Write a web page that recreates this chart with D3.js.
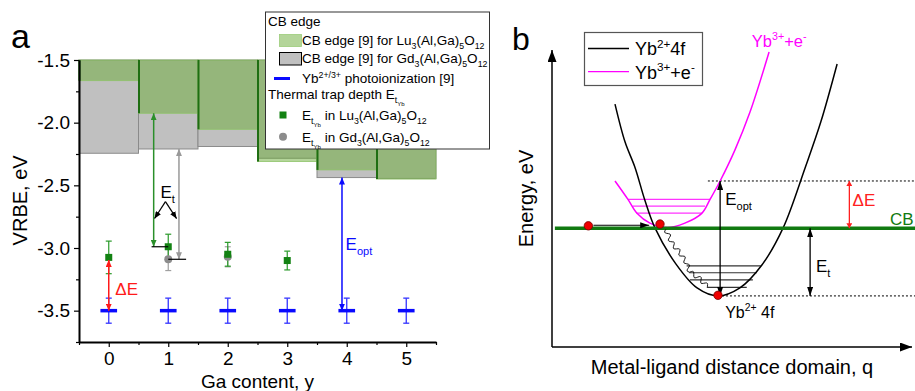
<!DOCTYPE html>
<html>
<head>
<meta charset="utf-8">
<script src="https://cdn.jsdelivr.net/npm/d3@7"></script>
<style>
  body { margin: 0; background: #fff; }
  svg { font-family: "Liberation Sans", Arial, sans-serif; }
</style>
</head>
<body>
<svg></svg>
<script>
///////////////////////////////////////////
// Data (panel a)
var gaContent = [0, 1, 2, 3, 4, 5];
var cbTop = -1.5;
var cbLu = [-1.665, -1.925, -2.053, -2.31, -2.377, -2.45];   // CB edge Lu3(Al,Ga)5O12
var cbGd = [-2.244, -2.21, -2.19, -2.284, -2.438, -2.445];   // CB edge Gd3(Al,Ga)5O12
var photoIon = [-3.5, -3.5, -3.5, -3.5, -3.5, -3.5];
var photoIonErr = [0.1, 0.1, 0.1, 0.1, 0.1, 0.1];
var etLuGa = [0, 1, 2, 3];
var etLu = [-3.075, -2.99, -3.05, -3.10];
var etLuErr = [0.13, 0.10, 0.095, 0.075];
var etGdGa = [1, 2];
var etGd = [-3.09, -3.07];
var etGdErr = [0.09, 0.08];
var yMajor = [-3.5, -3.0, -2.5, -2.0, -1.5];
var yMinor = [-3.75, -3.25, -2.75, -2.25, -1.75];
var xMinor = [-0.5, 0.5, 1.5, 2.5, 3.5, 4.5, 5.5];

///////////////////////////////////////////
// Data (panel b), schematic units q: 0..100, E: 0..100
var curve4f = [[17.5, 81.8], [20.3, 69.0], [23.1, 60.3], [25.8, 49.4], [28.6, 40.1], [34.4, 28.0],
               [40.3, 19.9], [46.1, 17.2], [52.2, 19.9], [58.3, 27.6], [64.2, 40.1], [70.3, 60.3],
               [74.7, 75.9], [79.2, 95.3]];
var curveCT = [[17.5, 55.9], [21.1, 49.7], [23.6, 45.0], [27.2, 41.7], [32.1, 40.2], [36.9, 41.7],
               [41.6, 45.0], [43.9, 49.7], [46.7, 55.9], [50.8, 66.3], [55.0, 79.1], [60.3, 99.3]];
var levelsCT = [[49.7, 21.1, 43.9], [47.4, 22.4, 42.5], [45.1, 23.5, 41.6]];
var levels4f = [[27.3, 37.4, 58.0], [25.0, 38.1, 56.9], [22.6, 38.3, 55.8], [20.1, 43.0, 54.1]];
var relaxPath = [[31.6, 39.6], [33.3, 35.0], [35.6, 31.6], [37.2, 28.6], [38.3, 25.3], [41.1, 22.9], [43.3, 20.2]];
var eCB = 40.0, eOptTop = 55.9, eGround = 17.2;
var electrons = [[10.1, 40.8], [30.0, 41.4], [46.1, 17.4]];

///////////////////////////////////////////
// Layout
var svgWidth = 915, svgHeight = 391;
var svg = d3.select("svg").attr("width", svgWidth).attr("height", svgHeight);
var defs = svg.append("defs");

var xA = d3.scaleLinear().domain([-0.5, 5.5]).range([79, 436]);
var yA = d3.scaleLinear().domain([-3.75, -1.5]).range([342, 60]);
var xB = d3.scaleLinear().domain([0, 100]).range([552, 912]);
var yB = d3.scaleLinear().domain([0, 100]).range([347, 50]);

var green = "#138213", greenFill = "#6aab35", grayPt = "#8c8c8c", blue = "#0a0aff";

function addMarker(id, color, len, wid) {
  defs.append("marker").attr("id", id)
    .attr("viewBox", "0 0 10 10").attr("refX", 10).attr("refY", 5)
    .attr("markerWidth", len).attr("markerHeight", wid)
    .attr("markerUnits", "userSpaceOnUse").attr("orient", "auto-start-reverse")
    .attr("preserveAspectRatio", "none")
    .append("path").attr("d", "M0,0L10,5L0,10Z").attr("fill", color);
}
addMarker("mGreen", "#2a8f2a", 7, 6);
addMarker("mGray", "#999", 7, 6);
addMarker("mRed", "#ff1a1a", 7, 6);
addMarker("mBlue", blue, 7, 6);
addMarker("mBlack", "#000", 7, 6);
addMarker("mBlackB", "#000", 9, 6);
addMarker("mRedB", "#ff2020", 5, 6);
addMarker("mAxis", "#000", 12, 9);

// text with sub/superscripts: parts = [[text, mode]]
function richText(sel, parts, size) {
  var shift = 0;
  parts.forEach(function(p) {
    var m = p[1] || "n";
    var target = m == "sub" ? size * 0.3 : m == "sup" ? -size * 0.4 : m == "subsub" ? size * 0.55 : 0;
    var fs = m == "n" ? size : m == "subsub" ? size * 0.45 : size * 0.65;
    sel.append("tspan").attr("dy", target - shift).style("font-size", fs + "px").text(p[0]);
    shift = target;
  });
  return sel;
}

///////////////////////////////////////////
///////////////////////////////////////////
// Panel a
var gA = svg.append("g").classed("panel-a", true);

// CB edge bars: Gd gray underneath, Lu green translucent over it
gA.selectAll("rect.gd").data(gaContent).enter().append("rect").classed("gd", true)
  .attr("x", function(d) { return xA(d - 0.5); })
  .attr("width", function(d) { return xA(d + 0.5) - xA(d - 0.5); })
  .attr("y", yA(cbTop))
  .attr("height", function(d, i) { return yA(cbGd[i]) - yA(cbTop); })
  .attr("fill", "#c0c0c0").attr("stroke", "#8a8a8a").attr("stroke-width", 1);

gA.selectAll("rect.lu").data(gaContent).enter().append("rect").classed("lu", true)
  .attr("x", function(d) { return xA(d - 0.5); })
  .attr("width", function(d) { return xA(d + 0.5) - xA(d - 0.5); })
  .attr("y", yA(cbTop))
  .attr("height", function(d, i) { return yA(cbLu[i]) - yA(cbTop); })
  .attr("fill", greenFill).attr("fill-opacity", 0.5)
  .attr("stroke", "#8fc46a").attr("stroke-width", 0.8);

gA.selectAll("line.luedge").data(gaContent).enter().append("line").classed("luedge", true)
  .attr("x1", function(d) { return xA(d - 0.5) + 0.5; })
  .attr("x2", function(d) { return xA(d - 0.5) + 0.5; })
  .attr("y1", yA(cbTop))
  .attr("y2", function(d, i) { return yA(cbLu[i]); })
  .attr("stroke", "#1f6e12").attr("stroke-width", 2);

// axes
var yAxis = gA.append("g").attr("transform", "translate(" + xA(-0.5) + ",0)")
  .call(d3.axisLeft(yA).tickValues(yMajor).tickSize(5).tickSizeOuter(0).tickPadding(4)
    .tickFormat(function(d) { return d.toFixed(1); }));
gA.append("g").attr("transform", "translate(" + xA(-0.5) + ",0)")
  .call(d3.axisLeft(yA).tickValues(yMinor).tickSize(3).tickSizeOuter(0).tickFormat(""))
  .select(".domain").remove();
var xAxis = gA.append("g").attr("transform", "translate(0," + yA(-3.75) + ")")
  .call(d3.axisBottom(xA).tickValues(gaContent).tickSize(5).tickSizeOuter(0).tickPadding(5)
    .tickFormat(d3.format("d")));
gA.append("g").attr("transform", "translate(0," + yA(-3.75) + ")")
  .call(d3.axisBottom(xA).tickValues(xMinor).tickSize(3).tickSizeOuter(0).tickFormat(""))
  .select(".domain").remove();
gA.selectAll(".domain").attr("stroke-width", 2);
gA.selectAll(".tick line").attr("stroke-width", 1.2);
gA.selectAll(".tick text").style("font-size", "19px").attr("fill", "#000");

gA.append("text").attr("transform", "translate(27," + yA(-2.62) + ") rotate(-90)")
  .attr("text-anchor", "middle").style("font-size", "20px").text("VRBE, eV");
gA.append("text").attr("x", (xA(-0.5) + xA(5.5)) / 2).attr("y", 388)
  .attr("text-anchor", "middle").style("font-size", "19px").text("Ga content, y");
gA.append("text").attr("x", 11).attr("y", 48).style("font-size", "34px").text("a");

// photoionization marks
gaContent.forEach(function(g, i) {
  gA.append("line").attr("x1", xA(g)).attr("x2", xA(g))
    .attr("y1", yA(photoIon[i] + photoIonErr[i])).attr("y2", yA(photoIon[i] - photoIonErr[i]))
    .attr("stroke", "#3333ff").attr("stroke-width", 1.3);
  [photoIon[i] + photoIonErr[i], photoIon[i] - photoIonErr[i]].forEach(function(v) {
    gA.append("line").attr("x1", xA(g) - 3).attr("x2", xA(g) + 3).attr("y1", yA(v)).attr("y2", yA(v))
      .attr("stroke", "#3333ff").attr("stroke-width", 1.3);
  });
  gA.append("line").attr("x1", xA(g - 0.14)).attr("x2", xA(g + 0.14))
    .attr("y1", yA(photoIon[i])).attr("y2", yA(photoIon[i]))
    .attr("stroke", blue).attr("stroke-width", 3.5);
});

// error bars + points
function errBars(xs, vs, es, color) {
  xs.forEach(function(g, i) {
    gA.append("line").attr("x1", xA(g)).attr("x2", xA(g))
      .attr("y1", yA(vs[i] + es[i])).attr("y2", yA(vs[i] - es[i]))
      .attr("stroke", color).attr("stroke-width", 1.2);
    [vs[i] + es[i], vs[i] - es[i]].forEach(function(v) {
      gA.append("line").attr("x1", xA(g) - 3).attr("x2", xA(g) + 3).attr("y1", yA(v)).attr("y2", yA(v))
        .attr("stroke", color).attr("stroke-width", 1.2);
    });
  });
}
errBars(etGdGa, etGd, etGdErr, "#a0a0a0");
errBars(etLuGa, etLu, etLuErr, "#2a9a2a");
gA.selectAll("circle.gd").data(etGdGa).enter().append("circle")
  .attr("cx", function(d) { return xA(d); }).attr("cy", function(d, i) { return yA(etGd[i]); })
  .attr("r", 4).attr("fill", grayPt);
gA.selectAll("rect.pt").data(etLuGa).enter().append("rect")
  .attr("x", function(d) { return xA(d) - 3.5; }).attr("y", function(d, i) { return yA(etLu[i]) - 3.5; })
  .attr("width", 7).attr("height", 7).attr("fill", green);

// annotation arrows
function arrowA(x1, y1, x2, y2, color, marker, both, w) {
  var l = gA.append("line").attr("x1", xA(x1)).attr("y1", yA(y1)).attr("x2", xA(x2)).attr("y2", yA(y2))
    .attr("stroke", color).attr("stroke-width", w || 1.5).attr("marker-end", "url(#" + marker + ")");
  if (both) l.attr("marker-start", "url(#" + marker + ")");
}
arrowA(0.755, cbLu[1], 0.755, etLu[1], "#2a8f2a", "mGreen", true);
arrowA(1.18, cbGd[1], 1.18, etGd[0], "#999", "mGray", true);
gA.append("line").attr("x1", xA(0.72)).attr("x2", xA(1.0)).attr("y1", yA(etLu[1])).attr("y2", yA(etLu[1]))
  .attr("stroke", "#000").attr("stroke-width", 1.2);
gA.append("line").attr("x1", xA(1.0)).attr("x2", xA(1.3)).attr("y1", yA(etGd[0])).attr("y2", yA(etGd[0]))
  .attr("stroke", "#000").attr("stroke-width", 1.2);
arrowA(0.953, -2.63, 0.77, -2.765, "#000", "mBlack", false, 1.2);
arrowA(0.953, -2.63, 1.14, -2.765, "#000", "mBlack", false, 1.2);
arrowA(0, etLu[0] - 0.02, 0, photoIon[0], "#ff1a1a", "mRed", true);
arrowA(3.92, cbGd[4], 3.92, photoIon[4], blue, "mBlue", true);

richText(gA.append("text").attr("x", xA(0.87)).attr("y", yA(-2.6)), [["E"], ["t", "sub"]], 17);
richText(gA.append("text").attr("x", xA(0.11)).attr("y", yA(-3.375)).attr("fill", "#ff1a1a"), [["\u0394E"]], 17);
richText(gA.append("text").attr("x", xA(3.98)).attr("y", yA(-3.015)).attr("fill", blue), [["E"], ["opt", "sub"]], 17);

// legend a
var lg = gA.append("g").classed("legend-a", true).style("font-size", "13.5px");
lg.append("rect").attr("x", 265.5).attr("y", 12).attr("width", 224).attr("height", 137)
  .attr("fill", "#fff").attr("stroke", "#333").attr("stroke-width", 1);
lg.append("text").attr("x", 268).attr("y", 26).text("CB edge");
lg.append("rect").attr("x", 279.5).attr("y", 34.5).attr("width", 22).attr("height", 12)
  .attr("fill", greenFill).attr("fill-opacity", 0.5).attr("stroke", "#9ccc7a").attr("stroke-width", 0.8);
richText(lg.append("text").attr("x", 302).attr("y", 44.5),
  [["CB edge [9] for Lu"], ["3", "sub"], ["(Al,Ga)"], ["5", "sub"], ["O"], ["12", "sub"]], 13.5);
lg.append("rect").attr("x", 279.5).attr("y", 52.5).attr("width", 22).attr("height", 12.5)
  .attr("fill", "#c0c0c0").attr("stroke", "#000").attr("stroke-width", 1);
richText(lg.append("text").attr("x", 302).attr("y", 63),
  [["CB edge [9] for Gd"], ["3", "sub"], ["(Al,Ga)"], ["5", "sub"], ["O"], ["12", "sub"]], 13.5);
lg.append("line").attr("x1", 274).attr("x2", 290).attr("y1", 78.5).attr("y2", 78.5)
  .attr("stroke", blue).attr("stroke-width", 3);
richText(lg.append("text").attr("x", 302).attr("y", 83),
  [["Yb"], ["2+/3+", "sup"], [" photoionization [9]"]], 13.5);
richText(lg.append("text").attr("x", 268).attr("y", 98.5),
  [["Thermal trap depth E"], ["t", "sub"], ["Yb", "subsub"]], 13.5);
lg.append("rect").attr("x", 279.5).attr("y", 111.5).attr("width", 7).attr("height", 7).attr("fill", green);
richText(lg.append("text").attr("x", 302).attr("y", 120),
  [["E"], ["t", "sub"], ["Yb", "subsub"], [" in Lu"], ["3", "sub"], ["(Al,Ga)"], ["5", "sub"], ["O"], ["12", "sub"]], 13.5);
lg.append("circle").attr("cx", 283).attr("cy", 136.7).attr("r", 4).attr("fill", grayPt);
richText(lg.append("text").attr("x", 302).attr("y", 141.7),
  [["E"], ["t", "sub"], ["Yb", "subsub"], [" in Gd"], ["3", "sub"], ["(Al,Ga)"], ["5", "sub"], ["O"], ["12", "sub"]], 13.5);

///////////////////////////////////////////
///////////////////////////////////////////
// Panel b
var gB = svg.append("g").classed("panel-b", true);
var lineB = d3.line().x(function(d) { return xB(d[0]); }).y(function(d) { return yB(d[1]); })
  .curve(d3.curveCatmullRom.alpha(0.5));

// axes with arrows
gB.append("line").attr("x1", xB(0)).attr("y1", yB(0)).attr("x2", xB(0)).attr("y2", yB(100))
  .attr("stroke", "#000").attr("stroke-width", 1.5).attr("marker-end", "url(#mAxis)");
gB.append("line").attr("x1", xB(0)).attr("y1", yB(0)).attr("x2", xB(100)).attr("y2", yB(0))
  .attr("stroke", "#000").attr("stroke-width", 1.5).attr("marker-end", "url(#mAxis)");
gB.append("text").attr("transform", "translate(533," + yB(50) + ") rotate(-90)")
  .attr("text-anchor", "middle").style("font-size", "20px").text("Energy, eV");
gB.append("text").attr("x", xB(50)).attr("y", 374).attr("text-anchor", "middle")
  .style("font-size", "20px").text("Metal-ligand distance domain, q");
gB.append("text").attr("x", 512).attr("y", 50).style("font-size", "32px").text("b");

// dotted reference lines
gB.append("line").attr("x1", xB(43.3)).attr("x2", xB(101)).attr("y1", yB(eOptTop)).attr("y2", yB(eOptTop))
  .attr("stroke", "#000").attr("stroke-width", 1).attr("stroke-dasharray", "2,2");
gB.append("line").attr("x1", xB(46.1)).attr("x2", xB(101)).attr("y1", yB(eGround)).attr("y2", yB(eGround))
  .attr("stroke", "#000").attr("stroke-width", 1).attr("stroke-dasharray", "2,2");

// vibrational levels
gB.selectAll("line.lct").data(levelsCT).enter().append("line")
  .attr("x1", function(d) { return xB(d[1]); }).attr("x2", function(d) { return xB(d[2]); })
  .attr("y1", function(d) { return yB(d[0]); }).attr("y2", function(d) { return yB(d[0]); })
  .attr("stroke", "#ff33ff").attr("stroke-width", 1.2);
gB.selectAll("line.l4f").data(levels4f).enter().append("line")
  .attr("x1", function(d) { return xB(d[1]); }).attr("x2", function(d) { return xB(d[2]); })
  .attr("y1", function(d) { return yB(d[0]); }).attr("y2", function(d) { return yB(d[0]); })
  .attr("stroke", "#333").attr("stroke-width", 1.2);

// potential curves
gB.append("path").attr("d", lineB(curveCT)).attr("fill", "none").attr("stroke", "#ff00ff").attr("stroke-width", 1.5);
gB.append("path").attr("d", lineB(curve4f)).attr("fill", "none").attr("stroke", "#000").attr("stroke-width", 1.5);

// CB
gB.append("line").attr("x1", xB(0.8)).attr("x2", xB(101)).attr("y1", yB(eCB)).attr("y2", yB(eCB))
  .attr("stroke", "#117a11").attr("stroke-width", 3.5);
gB.append("text").attr("x", xB(93.9)).attr("y", yB(41.2)).attr("fill", "#117a11")
  .style("font-size", "17px").text("CB");

// wavy relaxation path
function wavyPath(pts, amp, wl) {
  var out = [], dist = 0;
  for (var i = 0; i < pts.length - 1; i++) {
    var p = pts[i], q = pts[i + 1];
    var dx = q[0] - p[0], dy = q[1] - p[1], L = Math.hypot(dx, dy);
    var nx = -dy / L, ny = dx / L, n = Math.ceil(L);
    for (var k = 0; k < n; k++) {
      var t = k / n, w = amp * Math.sin(2 * Math.PI * (dist + t * L) / wl);
      out.push([p[0] + dx * t + nx * w, p[1] + dy * t + ny * w]);
    }
    dist += L;
  }
  out.push(pts[pts.length - 1]);
  return d3.line()(out);
}
gB.append("path")
  .attr("d", wavyPath(relaxPath.map(function(d) { return [xB(d[0]), yB(d[1])]; }), 2.2, 9))
  .attr("fill", "none").attr("stroke", "#000").attr("stroke-width", 0.9);

// arrows
function arrowB(x1, y1, x2, y2, color, marker, both, w) {
  var l = gB.append("line").attr("x1", xB(x1)).attr("y1", yB(y1)).attr("x2", xB(x2)).attr("y2", yB(y2))
    .attr("stroke", color).attr("stroke-width", w || 1.3).attr("marker-end", "url(#" + marker + ")");
  if (both) l.attr("marker-start", "url(#" + marker + ")");
}
arrowB(11.5, 41.0, 27.0, 41.0, "#000", "mBlackB", false, 1.2);
arrowB(46.7, eOptTop, 46.7, eGround, "#000", "mBlackB", true);
arrowB(71.7, eCB, 71.7, eGround, "#000", "mBlackB", true);
arrowB(82.6, eOptTop, 82.6, eCB, "#ff2020", "mRedB", true);

// electrons
gB.selectAll("circle.el").data(electrons).enter().append("circle")
  .attr("cx", function(d) { return xB(d[0]); }).attr("cy", function(d) { return yB(d[1]); })
  .attr("r", 4.2).attr("fill", "#ee0000").attr("stroke", "#7a0000").attr("stroke-width", 0.8);

// labels
richText(gB.append("text").attr("x", xB(48.1)).attr("y", yB(47.8)), [["E"], ["opt", "sub"]], 17);
richText(gB.append("text").attr("x", xB(73.3)).attr("y", yB(25.4)), [["E"], ["t", "sub"]], 17);
richText(gB.append("text").attr("x", xB(83.5)).attr("y", yB(47.5)).attr("fill", "#ff2020"), [["\u0394E"]], 17);
richText(gB.append("text").attr("x", xB(48.1)).attr("y", yB(9.8)), [["Yb"], ["2+", "sup"], [" 4f"]], 16);
richText(gB.append("text").attr("x", xB(55.5)).attr("y", yB(101.1)).attr("fill", "#ff00ff"),
  [["Yb"], ["3+", "sup"], ["+e"], ["-", "sup"]], 16.5);

// legend b
var lb = gB.append("g").classed("legend-b", true);
lb.append("rect").attr("x", 584.5).attr("y", 32.5).attr("width", 118).attr("height", 53)
  .attr("fill", "#fff").attr("stroke", "#555").attr("stroke-width", 1.2);
lb.append("line").attr("x1", 588).attr("x2", 629).attr("y1", 48.5).attr("y2", 48.5)
  .attr("stroke", "#000").attr("stroke-width", 1.3);
richText(lb.append("text").attr("x", 635).attr("y", 55), [["Yb"], ["2+", "sup"], ["4f"]], 18);
lb.append("line").attr("x1", 588).attr("x2", 629).attr("y1", 71.7).attr("y2", 71.7)
  .attr("stroke", "#ff00ff").attr("stroke-width", 1.3);
richText(lb.append("text").attr("x", 635).attr("y", 78.5), [["Yb"], ["3+", "sup"], ["+e"], ["-", "sup"]], 18);
</script>
</body>
</html>
